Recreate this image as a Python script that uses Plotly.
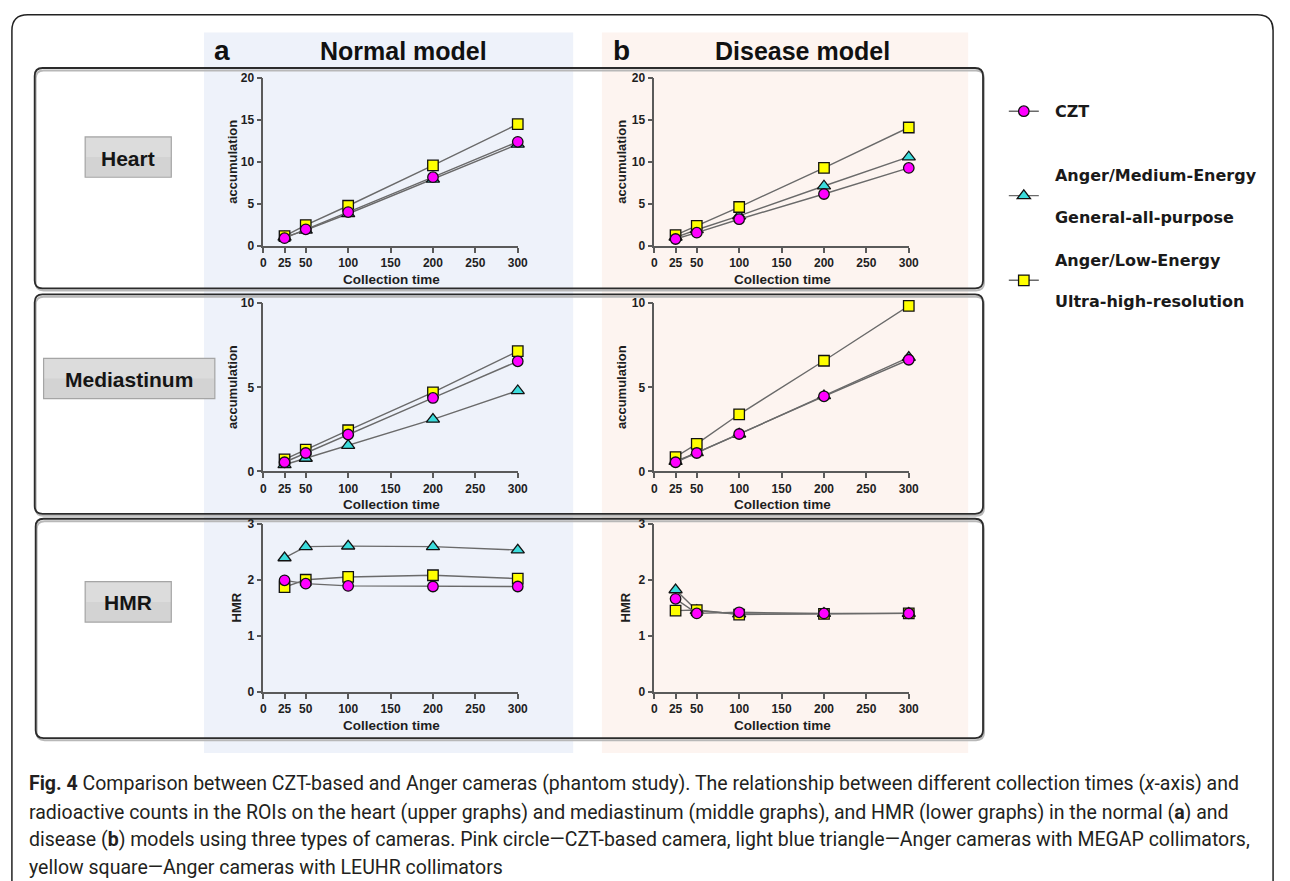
import plotly.graph_objects as go

W, H = 1290, 881

# ---------------- data ----------------
times = [25, 50, 100, 200, 300]
x_tick_vals = [0, 25, 50, 100, 150, 200, 250, 300]

series_names = ["\u00a0\u00a0CZT",
                "\u00a0\u00a0Anger/Medium-Energy<br> <br>\u00a0\u00a0General-all-purpose",
                "\u00a0\u00a0Anger/Low-Energy<br> <br>\u00a0\u00a0Ultra-high-resolution"]

normal_heart_czt = [0.95, 2.0, 4.05, 8.2, 12.4]
normal_heart_megp = [1.05, 1.9, 3.85, 7.95, 12.1]
normal_heart_leuhr = [1.2, 2.5, 4.8, 9.6, 14.5]

disease_heart_czt = [0.85, 1.6, 3.2, 6.2, 9.3]
disease_heart_megp = [1.05, 1.95, 3.6, 7.15, 10.6]
disease_heart_leuhr = [1.3, 2.4, 4.65, 9.3, 14.1]

normal_med_czt = [0.55, 1.1, 2.2, 4.37, 6.55]
normal_med_megp = [0.4, 0.78, 1.55, 3.1, 4.8]
normal_med_leuhr = [0.72, 1.3, 2.45, 4.7, 7.15]

disease_med_czt = [0.55, 1.1, 2.23, 4.47, 6.64]
disease_med_megp = [0.6, 1.12, 2.22, 4.5, 6.78]
disease_med_leuhr = [0.86, 1.64, 3.4, 6.58, 9.84]

normal_hmr_czt = [1.99, 1.93, 1.89, 1.88, 1.88]
normal_hmr_megp = [2.39, 2.59, 2.6, 2.59, 2.53]
normal_hmr_leuhr = [1.87, 2.0, 2.05, 2.08, 2.02]

disease_hmr_czt = [1.66, 1.4, 1.42, 1.4, 1.4]
disease_hmr_megp = [1.82, 1.45, 1.39, 1.4, 1.4]
disease_hmr_leuhr = [1.45, 1.46, 1.38, 1.39, 1.4]

row_labels = ["Heart", "Mediastinum", "HMR"]
y_titles = ["accumulation", "accumulation", "HMR"]
y_ranges = [[0, 20], [0, 10], [0, 3]]
y_dticks = [5, 5, 1]
col_titles = [("a", "Normal model"), ("b", "Disease model")]
x_title = "Collection time"

caption_lines = [
    "<b>Fig. 4</b> Comparison between CZT-based and Anger cameras (phantom study). The relationship between different collection times (<i>x</i>-axis) and",
    "radioactive counts in the ROIs on the heart (upper graphs) and mediastinum (middle graphs), and HMR (lower graphs) in the normal (<b>a</b>) and",
    "disease (<b>b</b>) models using three types of cameras. Pink circle\u2014CZT-based camera, light blue triangle\u2014Anger cameras with MEGAP collimators,",
    "yellow square\u2014Anger cameras with LEUHR collimators",
]

panels = [
    [(normal_heart_czt, normal_heart_megp, normal_heart_leuhr),
     (disease_heart_czt, disease_heart_megp, disease_heart_leuhr)],
    [(normal_med_czt, normal_med_megp, normal_med_leuhr),
     (disease_med_czt, disease_med_megp, disease_med_leuhr)],
    [(normal_hmr_czt, normal_hmr_megp, normal_hmr_leuhr),
     (disease_hmr_czt, disease_hmr_megp, disease_hmr_leuhr)],
]

# ---------------- styling / layout (pixels) ----------------
def X(p):
    return p / W


def Y(p):
    return 1 - p / H


col_px = [(263, 520), (658, 915)]
row_px = [(243, 72), (472, 301), (696, 525)]

styles = [  # czt, megp, leuhr
    dict(symbol="circle", color="#FF00FF", size=10.5),
    dict(symbol="triangle-up", color="#3CDCDC", size=11.5),
    dict(symbol="square", color="#FFFF00", size=10.5),
]
legend_ids = ["legend", "legend2", "legend3"]
draw_order = [1, 2, 0]

AX_COL = "#5a5a5a"
TXT = "#1e1e1e"
FONT = "Liberation Sans"

fig = go.Figure()
layout = {}

for r in range(3):
    for c in range(2):
        idx = r * 2 + c + 1
        xa = "x" if idx == 1 else f"x{idx}"
        ya = "y" if idx == 1 else f"y{idx}"
        xkey = "xaxis" if idx == 1 else f"xaxis{idx}"
        ykey = "yaxis" if idx == 1 else f"yaxis{idx}"
        x0, x1 = col_px[c]
        yb, yt = row_px[r]
        layout[xkey] = dict(
            domain=[X(x0), X(x1)], anchor=ya, range=[0, 300],
            tickmode="array", tickvals=x_tick_vals,
            showline=True, linecolor=AX_COL, linewidth=1.6,
            ticks="outside", ticklen=5, tickwidth=1.5, tickcolor=AX_COL,
            showgrid=False, zeroline=False,
            tickfont=dict(family=FONT, size=12, color=TXT, weight="bold"),
        )
        layout[ykey] = dict(
            domain=[Y(yb), Y(yt)], anchor=xa, range=y_ranges[r],
            dtick=y_dticks[r], tick0=0,
            showline=True, linecolor=AX_COL, linewidth=1.6,
            ticks="outside", ticklen=5, tickwidth=1.5, tickcolor=AX_COL,
            showgrid=False, zeroline=False,
            tickfont=dict(family=FONT, size=12, color=TXT, weight="bold"),
        )
        series = panels[r][c]
        for s in draw_order:
            st = styles[s]
            fig.add_trace(go.Scatter(
                x=times, y=series[s], xaxis=xa, yaxis=ya,
                mode="lines+markers", name=series_names[s],
                line=dict(color="#6a6a6a", width=1.4),
                marker=dict(symbol=st["symbol"], color=st["color"], size=st["size"],
                            line=dict(color="#111111", width=1.3)),
                cliponaxis=False,
                showlegend=(idx == 1), legend=legend_ids[s],
                hoverinfo="x+y+name",
            ))

shapes = []
# column backgrounds
shapes.append(dict(type="rect", xref="paper", yref="paper", x0=X(203), x1=X(576),
                   y0=Y(758), y1=Y(26), fillcolor="#EEF2FA", line=dict(width=0), layer="below"))
shapes.append(dict(type="rect", xref="paper", yref="paper", x0=X(605), x1=X(975),
                   y0=Y(758), y1=Y(26), fillcolor="#FDF4F0", line=dict(width=0), layer="below"))


def rrect(x0, y0, x1, y1, r):
    return (f"M {X(x0 + r)},{Y(y0)} L {X(x1 - r)},{Y(y0)} Q {X(x1)},{Y(y0)} {X(x1)},{Y(y0 + r)} "
            f"L {X(x1)},{Y(y1 - r)} Q {X(x1)},{Y(y1)} {X(x1 - r)},{Y(y1)} "
            f"L {X(x0 + r)},{Y(y1)} Q {X(x0)},{Y(y1)} {X(x0)},{Y(y1 - r)} "
            f"L {X(x0)},{Y(y0 + r)} Q {X(x0)},{Y(y0)} {X(x0 + r)},{Y(y0)} Z")


# outer frame (open at the bottom)
rf = 16
outer = (f"M {X(9)},{Y(900)} L {X(9)},{Y(8 + rf)} Q {X(9)},{Y(8)} {X(9 + rf)},{Y(8)} "
         f"L {X(1283 - rf)},{Y(8)} Q {X(1283)},{Y(8)} {X(1283)},{Y(8 + rf)} L {X(1283)},{Y(900)}")
shapes.append(dict(type="path", xref="paper", yref="paper", path=outer,
                   line=dict(color="#222222", width=1.5), layer="below"))

row_boxes = [(32, 62, 990, 286), (32, 292, 990, 515), (33, 520, 990, 743)]
for (x0, y0, x1, y1) in row_boxes:
    shapes.append(dict(type="path", xref="paper", yref="paper",
                       path=rrect(x0 + 1, y0 + 2.5, x1 + 1, y1 + 2, 8),
                       line=dict(color="#b8b8b8", width=2), layer="below"))
    shapes.append(dict(type="path", xref="paper", yref="paper",
                       path=rrect(x0, y0, x1, y1, 8),
                       line=dict(color="#2b2b2b", width=1.8), layer="below"))

label_boxes = [(83, 132, 170, 173), (41, 357, 214, 398), (83, 584, 170, 625)]
annotations = []
for (x0, y0, x1, y1), txt in zip(label_boxes, row_labels):
    shapes.append(dict(type="rect", xref="paper", yref="paper", x0=X(x0), x1=X(x1),
                       y0=Y(y1), y1=Y(y0), fillcolor="#D3D3D3",
                       line=dict(color="#A5A5A5", width=1.2), layer="below"))
    # lighter upper half to hint at the gradient of the label buttons
    shapes.append(dict(type="rect", xref="paper", yref="paper", x0=X(x0 + 1), x1=X(x1 - 1),
                       y0=Y((y0 + y1) / 2), y1=Y(y0 + 1), fillcolor="#DCDCDC",
                       line=dict(width=0), layer="below"))
    annotations.append(dict(xref="paper", yref="paper", x=X((x0 + x1) / 2), y=Y((y0 + y1) / 2 + 1),
                            text=f"<b>{txt}</b>", showarrow=False, xanchor="center", yanchor="middle",
                            font=dict(family=FONT, size=21, color="#151515")))

# column titles
title_pos = [(221, 405), (625, 808)]
for (lx, tx), (letter, title) in zip(title_pos, col_titles):
    annotations.append(dict(xref="paper", yref="paper", x=X(lx), y=Y(44), text=f"<b>{letter}</b>",
                            showarrow=False, xanchor="center", yanchor="middle",
                            font=dict(family=FONT, size=28, color="#111111")))
    annotations.append(dict(xref="paper", yref="paper", x=X(tx), y=Y(45), text=f"<b>{title}</b>",
                            showarrow=False, xanchor="center", yanchor="middle",
                            font=dict(family=FONT, size=25, color="#111111")))

# axis titles
ytitle_x = [(232, 625), (232, 625), (236, 629)]
xtitle_y = [277, 506, 730]
xtitle_x = [392, 787]
for r in range(3):
    for c in range(2):
        yb, yt = row_px[r]
        annotations.append(dict(xref="paper", yref="paper", x=X(ytitle_x[r][c]), y=Y((yb + yt) / 2),
                                text=f"<b>{y_titles[r]}</b>", textangle=-90, showarrow=False,
                                xanchor="center", yanchor="middle",
                                font=dict(family=FONT, size=13, color=TXT)))
        annotations.append(dict(xref="paper", yref="paper", x=X(xtitle_x[c]), y=Y(xtitle_y[r]),
                                text=f"<b>{x_title}</b>", showarrow=False,
                                xanchor="center", yanchor="middle",
                                font=dict(family=FONT, size=13.5, color=TXT)))

# caption
cap_y = [789, 818, 846, 874]
for ln, cy in zip(caption_lines, cap_y):
    annotations.append(dict(xref="paper", yref="paper", x=X(24), y=Y(cy), text=ln,
                            showarrow=False, xanchor="left", yanchor="middle",
                            font=dict(family="Roboto", size=19.5, color="#231f20")))

legend_y = [106, 192, 278]
leg_common = dict(xref="paper", yref="paper", x=X(1011), xanchor="left", yanchor="middle",
                  bgcolor="rgba(0,0,0,0)", borderwidth=0,
                  font=dict(family="DejaVu Sans", size=16, color="#1a1a1a", weight="bold"))
for lid, ly in zip(legend_ids, legend_y):
    layout[lid] = dict(y=Y(ly), **leg_common)

fig.update_layout(
    width=W, height=H, autosize=False,
    margin=dict(l=0, r=0, t=0, b=0),
    paper_bgcolor="white", plot_bgcolor="rgba(0,0,0,0)",
    shapes=shapes, annotations=annotations,
    **layout,
)

fig.write_html("out.html", config={"displayModeBar": False},
               post_script="document.body.style.margin='0';document.body.style.overflow='hidden';")
